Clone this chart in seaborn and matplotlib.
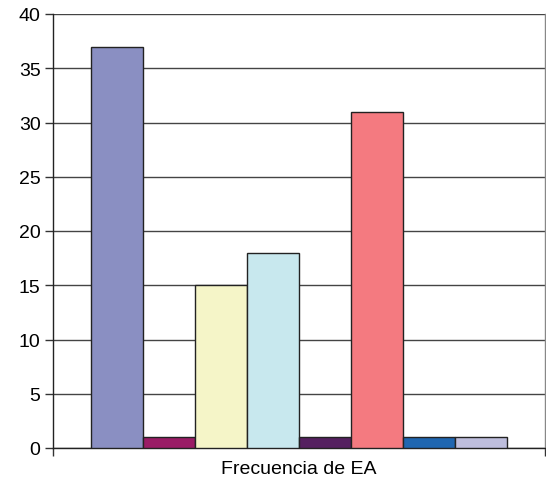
import matplotlib
matplotlib.use("Agg")
import matplotlib.pyplot as plt
import seaborn as sns
import pandas as pd

categories = ["Frecuencia de EA"]
series = ["S1", "S2", "S3", "S4", "S5", "S6", "S7", "S8"]
values = [37, 1, 15, 18, 1, 31, 1, 1]
colors = ["#8A8FC2", "#9A1C66", "#F5F5C8", "#C8E8EE", "#552060", "#F47A80", "#1F66B0", "#BEBEDD"]
yticks = [0, 5, 10, 15, 20, 25, 30, 35, 40]

df = pd.DataFrame({"cat": categories * len(series), "serie": series, "val": values})

sns.set_style("white")
plt.rcParams["font.family"] = ["Liberation Sans", "DejaVu Sans"]

fig = plt.figure(figsize=(5.46, 4.85), dpi=100)
ax = fig.add_axes([53 / 546, 1 - 449 / 485, (545 - 53) / 546, (449 - 15) / 485])

sns.barplot(data=df, x="cat", y="val", hue="serie", palette=colors, width=0.8455,
            saturation=1, edgecolor="#222222", linewidth=1.0, legend=False, ax=ax, zorder=3)

ax.set_ylim(0, 40)
ax.set_xlim(-0.5, 0.5)
ax.set_yticks(yticks)
ax.set_yticklabels([str(t) for t in yticks], fontsize=14, color="black")
ax.set_xticks([-0.5, 0.5])
ax.set_xticklabels(["", ""])
ax.tick_params(axis="both", which="major", direction="out", length=6, width=1,
               color="#333333", pad=3, bottom=True, left=True)
ax.grid(axis="y", color="#444444", linewidth=1.0, zorder=0)
ax.set_axisbelow(True)
ax.set_ylabel("")
ax.set_xlabel("Frecuencia de EA", fontsize=14, color="black", labelpad=0)

ax.spines["top"].set_visible(False)
ax.spines["left"].set_color("#222222")
ax.spines["bottom"].set_color("#222222")
ax.spines["right"].set_color("#888888")
for s in ["left", "bottom", "right"]:
    ax.spines[s].set_linewidth(1.0)

fig.savefig("out.png", dpi=100)
